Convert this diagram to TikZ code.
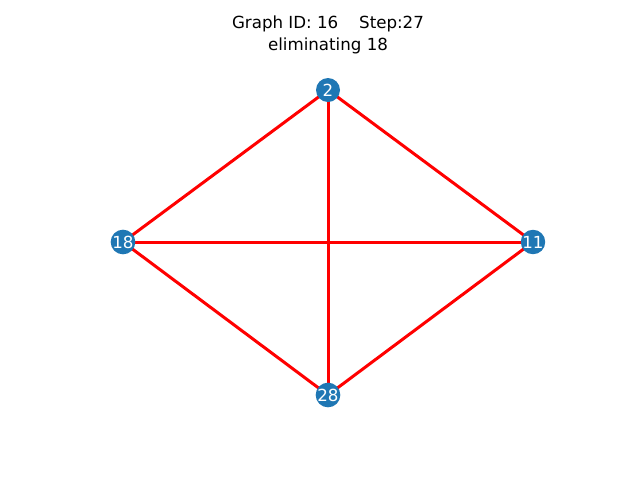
\documentclass[tikz,border=0pt]{standalone}
\usepackage{fontspec}
\setmainfont{DejaVu Sans}
\definecolor{nodeblue}{HTML}{1F77B4}
\begin{document}
\begin{tikzpicture}[x=0.75pt,y=-0.75pt,
  vert/.style={circle,fill=nodeblue,draw=none,minimum size=18pt,inner sep=0pt,text=white,font=\fontsize{12.5}{14}\selectfont},
  edge/.style={red,line width=2.25pt},
  ttl/.style={font=\fontsize{12.5}{14}\selectfont,inner sep=0pt,anchor=base}]
\useasboundingbox (0,0) rectangle (640,480);
\node[ttl] (t1) at (328,28) {Graph ID: 16\hspace{1.25em}Step:27};
\node[ttl] (t2) at (328,50) {eliminating 18};
\coordinate (p2) at (328,90);
\coordinate (p18) at (123,242);
\coordinate (p11) at (533,242);
\coordinate (p28) at (328,395);
\draw[edge] (p2) -- (p18);
\draw[edge] (p2) -- (p11);
\draw[edge] (p2) -- (p28);
\draw[edge] (p18) -- (p11);
\draw[edge] (p18) -- (p28);
\draw[edge] (p11) -- (p28);
\node[vert] (n2) at (p2) {2};
\node[vert] (n18) at (p18) {18};
\node[vert] (n11) at (p11) {11};
\node[vert] (n28) at (p28) {28};
\end{tikzpicture}
\end{document}
